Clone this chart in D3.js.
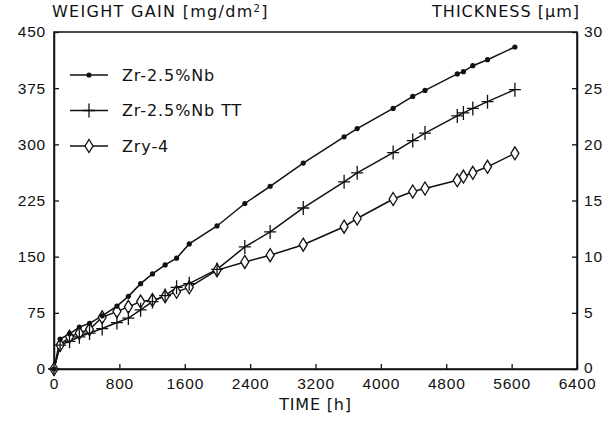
<!DOCTYPE html>
<html>
<head>
<meta charset="utf-8">
<script src="https://cdn.jsdelivr.net/npm/d3@7"></script>
<style>
    body { margin: 0; background: #fff }
    svg { display: block; font-family: "DejaVu Sans", sans-serif }
</style>
</head>
<body>
<svg id="chart" width="606" height="427"></svg>
<script>
// inspection times [h], shared by the three alloys
const timeH = [0, 75, 190, 310, 435, 590, 770, 910, 1060, 1205, 1360, 1500, 1655, 1995,
    2335, 2645, 3050, 3550, 3710, 4150, 4390, 4540, 4935, 5010, 5125, 5305, 5640]

// weight gain [mg/dm2]
const nbGain = [0, 40, 47, 56, 61, 71, 84, 97, 114, 127, 139, 148, 167, 191,
    221, 244, 275, 310, 321, 348, 364, 372, 394, 397, 405, 413, 430]
const ttGain = [0, 32, 37, 43, 48, 54, 62, 68, 79, 90, 98, 109, 114, 133,
    163, 183, 215, 250, 262, 289, 305, 315, 338, 342, 348, 357, 373]
const zryGain = [0, 32, 43, 48, 53, 69, 77, 83, 90, 92, 97, 103, 109, 132,
    143, 152, 166, 190, 201, 227, 237, 241, 252, 257, 262, 270, 288]

const seriesNames = ['Zr-2.5%Nb', 'Zr-2.5%Nb TT', 'Zry-4']
const xTicks = [0, 800, 1600, 2400, 3200, 4000, 4800, 5600, 6400]
const yTicks = [0, 75, 150, 225, 300, 375, 450]
const yRightTicks = [0, 5, 10, 15, 20, 25, 30]

const margin = { top: 32, right: 29, bottom: 58, left: 54 }
const svg = d3.select('#chart')
const width = +svg.attr('width') - margin.left - margin.right
const height = +svg.attr('height') - margin.top - margin.bottom
const ink = '#111'

const chart = svg.append('g').attr('transform', `translate(${margin.left},${margin.top})`)

const x = d3.scaleLinear().domain([0, 6400]).range([0, width])
const y = d3.scaleLinear().domain([0, 450]).range([height, 0])
const yRight = d3.scaleLinear().domain([0, 30]).range([height, 0])

const styleAxis = g => {
    g.select('.domain').attr('stroke', ink).attr('stroke-width', 1.5)
    g.selectAll('.tick line').attr('stroke', ink).attr('stroke-width', 1.3)
    g.selectAll('text').attr('fill', ink).style('font-size', '15.5px').style('letter-spacing', '0.8px')
}

// frame
chart.append('rect')
    .attr('width', width).attr('height', height)
    .attr('fill', 'none').attr('stroke', ink).attr('stroke-width', 1.5)

chart.append('g')
    .attr('transform', `translate(0,${height})`)
    .call(d3.axisBottom(x).tickValues(xTicks).tickFormat(d3.format('d'))
        .tickSizeInner(-5).tickSizeOuter(0).tickPadding(9))
    .call(styleAxis)

chart.append('g')
    .call(d3.axisLeft(y).tickValues(yTicks).tickFormat(d3.format('d'))
        .tickSizeInner(-5).tickSizeOuter(0).tickPadding(8))
    .call(styleAxis)

chart.append('g')
    .attr('transform', `translate(${width},0)`)
    .call(d3.axisRight(yRight).tickValues(yRightTicks).tickFormat(d3.format('d'))
        .tickSizeInner(-5).tickSizeOuter(0).tickPadding(7))
    .call(styleAxis)
    .call(g => g.selectAll('.tick text').filter(d => d === 0).attr('dy', '0.2em'))

// axis titles
svg.append('text')
    .attr('x', 52).attr('y', 17)
    .attr('fill', ink).style('font-size', '16px').style('letter-spacing', '1.3px')
    .text('WEIGHT GAIN [mg/dm')
    .call(t => t.append('tspan').attr('baseline-shift', 'super').style('font-size', '10px').text('2'))
    .call(t => t.append('tspan').text(']'))

svg.append('text')
    .attr('x', 580).attr('y', 17).attr('text-anchor', 'end')
    .attr('fill', ink).style('font-size', '16px').style('letter-spacing', '1px')
    .text('THICKNESS [μm]')

svg.append('text')
    .attr('x', margin.left + width / 2).attr('y', 410).attr('text-anchor', 'middle')
    .attr('fill', ink).style('font-size', '16px').style('letter-spacing', '0.8px')
    .text('TIME [h]')

// markers
const drawMarker = (sel, kind) => {
    if (kind === 0) {
        sel.append('circle').attr('r', 2.6).attr('fill', ink)
    } else if (kind === 1) {
        sel.append('path').attr('d', 'M-6,0H6M0,-7V7')
            .attr('stroke', ink).attr('stroke-width', 1.3).attr('fill', 'none')
    } else {
        sel.append('path').attr('d', 'M0,-6.5L4,0L0,6.5L-4,0Z')
            .attr('stroke', ink).attr('stroke-width', 1.3).attr('fill', '#fff')
    }
}

const series = [nbGain, ttGain, zryGain].map((values, i) => ({
    name: seriesNames[i],
    kind: i,
    points: timeH.map((t, j) => [t, values[j]])
}))

const line = d3.line().x(d => x(d[0])).y(d => y(d[1]))

series.forEach(s => {
    chart.append('path')
        .datum(s.points)
        .attr('d', line)
        .attr('fill', 'none').attr('stroke', ink).attr('stroke-width', 1.5)
})

// diamonds first so the filled dots stay visible on top
series.slice().reverse().forEach(s => {
    chart.append('g')
        .selectAll('g')
        .data(s.points)
        .join('g')
        .attr('transform', d => `translate(${x(d[0])},${y(d[1])})`)
        .each(function () { drawMarker(d3.select(this), s.kind) })
})

// legend
const legend = svg.append('g').attr('transform', 'translate(70,75)')
series.forEach((s, i) => {
    const row = legend.append('g').attr('transform', `translate(0,${i * 35.5})`)
    row.append('line').attr('x1', 0).attr('x2', 38)
        .attr('stroke', ink).attr('stroke-width', 1.5)
    row.append('g').attr('transform', 'translate(19,0)').call(g => drawMarker(g, s.kind))
    row.append('text')
        .attr('x', 52).attr('dy', '0.36em')
        .attr('fill', ink).style('font-size', '16px').style('letter-spacing', '0.9px')
        .text(s.name)
})
</script>
</body>
</html>
